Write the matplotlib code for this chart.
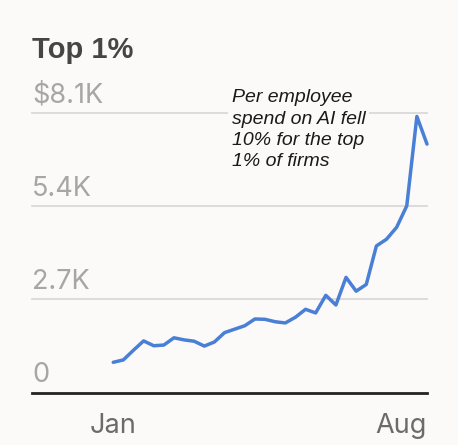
import matplotlib
matplotlib.use("Agg")
import matplotlib.pyplot as plt
import matplotlib.transforms as mtransforms

# ---- data ----
weeks = list(range(32))
spend = [880, 950, 1230, 1500, 1360, 1380, 1590, 1530, 1490, 1350,
         1470, 1740, 1840, 1940, 2135, 2125, 2055, 2020, 2185, 2415,
         2310, 2820, 2540, 3340, 2940, 3135, 4250, 4445, 4790, 5410,
         8000, 7200]
ytick_vals = [0, 2700, 5400, 8100]
ytick_labels = ["0", "2.7K", "5.4K", "$8.1K"]
xtick_pos = [0, 31]
xtick_labels = ["Jan", "Aug"]
title = "Top 1%"
note = "Per employee\nspend on AI fell\n10% for the top\n1% of firms"

BG = "#fbfaf9"
LINE = "#4a7fd6"
FONT = ["Liberation Sans", "DejaVu Sans"]
FONT2 = ["Inter", "Liberation Sans", "DejaVu Sans"]

fig = plt.figure(figsize=(4.58, 4.45), dpi=100, facecolor=BG)
W, H = 458, 445
ax_left, ax_right = 32, 427
ax_top, ax_bot = 113, 392.7
ax = fig.add_axes([ax_left / W, (H - ax_bot) / H,
                   (ax_right - ax_left) / W, (ax_bot - ax_top) / H])
ax.set_facecolor(BG)

ax.plot(weeks, spend, color=LINE, lw=2.5, solid_joinstyle="round",
        solid_capstyle="round", zorder=3, clip_on=False)

px_per_unit = 10.13
ax.set_xlim(-(113.3 - ax_left) / px_per_unit, 31)
ax.set_ylim(0, 8100)

for s in ax.spines.values():
    s.set_visible(False)
ax.set_xticks([])
ax.set_yticks([])

# gridlines
for v in ytick_vals[1:]:
    ax.axhline(v, color="#d9d9d9", lw=1.3, zorder=1, clip_on=False)
ax.axhline(0, color="#222222", lw=2.0, zorder=2, clip_on=False)

# y labels (inside, above gridlines)
trans = mtransforms.blended_transform_factory(ax.transAxes, ax.transData)
off = mtransforms.offset_copy(trans, fig=fig, x=0, y=7.5, units="points")
for v, lab in zip(ytick_vals, ytick_labels):
    ax.text(0.0, v, lab, transform=off, ha="left", va="baseline",
            fontsize=19.5, color="#a6a6a6", family=FONT2)

# x labels
transx = mtransforms.blended_transform_factory(ax.transData, ax.transAxes)
ax.text(xtick_pos[0], -0.145, xtick_labels[0], transform=transx, ha="center",
        va="baseline", fontsize=19.5, color="#6b6b6b", family=FONT2)
ax.text(xtick_pos[1], -0.145, xtick_labels[1], transform=transx, ha="right",
        va="baseline", fontsize=19.5, color="#6b6b6b", family=FONT2)

# title
fig.text(32 / W, 1 - 58.5 / H, title, ha="left", va="baseline",
         fontsize=21, fontweight="bold", color="#454545", family=FONT)

# annotation
fig.text(231.5 / W, 1 - 89.5 / H, note, ha="left", va="top",
         fontsize=14, style="italic", color="#1a1a1a", family=FONT,
         linespacing=1.32,
         bbox=dict(facecolor=BG, edgecolor="none", pad=2.5))

fig.savefig("out.png", dpi=100, facecolor=BG)
